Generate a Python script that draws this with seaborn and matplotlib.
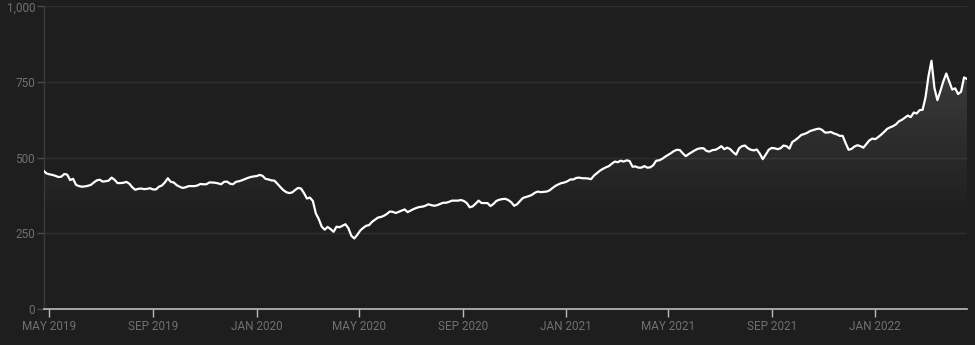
import numpy as np
import pandas as pd
import matplotlib
matplotlib.use("Agg")
import matplotlib.pyplot as plt
import matplotlib.dates as mdates
from matplotlib.ticker import FuncFormatter
import seaborn as sns

# ---- data (half-weekly closes) ----
start_date = "2019-04-24"
step = "84h"
prices = [
    457, 448, 445, 443, 440, 436, 437, 446, 444, 426,
    430, 410, 406, 404, 405, 407, 410, 418, 425, 427,
    421, 422, 424, 434, 427, 416, 416, 417, 420, 414,
    402, 394, 397, 398, 396, 397, 399, 395, 395, 404,
    408, 418, 432, 420, 418, 409, 404, 400, 402, 406,
    406, 406, 408, 413, 412, 412, 418, 418, 417, 415,
    412, 420, 421, 414, 412, 420, 422, 425, 429, 433,
    436, 438, 439, 443, 440, 430, 428, 425, 424, 414,
    403, 393, 386, 383, 385, 393, 400, 398, 383, 365,
    368, 357, 316, 297, 272, 262, 271, 264, 255, 272,
    270, 275, 280, 267, 242, 233, 245, 259, 268, 275,
    277, 288, 295, 302, 304, 308, 314, 322, 321, 317,
    321, 325, 329, 320, 325, 330, 334, 337, 338, 341,
    346, 343, 341, 343, 347, 351, 351, 354, 358, 358,
    358, 360, 357, 350, 336, 339, 348, 358, 350, 350,
    350, 340, 347, 357, 361, 363, 364, 360, 353, 341,
    346, 357, 367, 370, 373, 377, 384, 388, 386, 387,
    388, 392, 400, 407, 412, 416, 418, 422, 428, 428,
    433, 434, 432, 432, 431, 429, 441, 449, 457, 463,
    468, 472, 480, 487, 485, 490, 487, 491, 489, 470,
    471, 467, 467, 472, 467, 468, 475, 490, 491, 496,
    503, 509, 515, 522, 526, 525, 514, 505, 512, 518,
    524, 529, 531, 531, 522, 520, 525, 526, 531, 538,
    528, 533, 528, 518, 510, 531, 538, 540, 531, 526,
    524, 527, 513, 495, 510, 526, 532, 531, 528, 531,
    540, 538, 530, 552, 558, 566, 575, 578, 582, 588,
    591, 594, 596, 592, 583, 583, 585, 580, 577, 572,
    572, 548, 526, 529, 537, 541, 538, 533, 545, 557,
    563, 561, 568, 576, 585, 595, 600, 604, 610, 620,
    625, 632, 639, 634, 649, 646, 657, 658, 700, 770,
    820, 730, 690, 720, 752, 778, 752, 725, 729, 710,
    718, 765, 760,
]
y_ticks = [0, 250, 500, 750, 1000]

dates = pd.date_range(start_date, periods=len(prices), freq=step)
df = pd.DataFrame({"date": dates, "price": prices})

BG = "#1e1e1e"
GRID = "#2f2f2f"
LABEL = "#707070"

sns.set_style("dark", {"axes.facecolor": BG, "figure.facecolor": BG})
plt.rcParams["font.family"] = ["Roboto", "DejaVu Sans"]

fig = plt.figure(figsize=(9.75, 3.45), dpi=100, facecolor=BG)
ax = fig.add_axes([43.5 / 975, 36 / 345, (967 - 43.5) / 975, (309 - 6.3) / 345])
ax.set_facecolor(BG)

sns.lineplot(data=df, x="date", y="price", ax=ax, color="white",
             linewidth=1.6, zorder=3)

# gradient fill under the line
poly = ax.fill_between(df["date"], df["price"], 0, color="none", linewidth=0)
yy = np.linspace(0, 1000, 400)
alpha = np.clip((yy - 300) / (830 - 300), 0, 1) * 0.14
grad = np.zeros((len(yy), 2, 4))
grad[..., :3] = 1.0
grad[..., 3] = alpha[:, None]
x0 = mdates.date2num(dates[0])
x1 = mdates.date2num(dates[-1])
img = ax.imshow(grad, extent=[x0, x1, 0, 1000], aspect="auto",
                origin="lower", zorder=2, interpolation="bilinear")
img.set_clip_path(poly.get_paths()[0], transform=ax.transData)

ax.set_xlim(dates[0], dates[-1])
ax.set_ylim(0, 1000)
ax.set_yticks(y_ticks)
ax.yaxis.set_major_formatter(FuncFormatter(lambda v, p: f"{int(v):,}"))
ax.xaxis.set_major_locator(mdates.MonthLocator(bymonth=[1, 5, 9]))
ax.xaxis.set_major_formatter(
    FuncFormatter(lambda v, p: mdates.num2date(v).strftime("%b %Y").upper()))

ax.grid(axis="y", color=GRID, linewidth=1)
ax.grid(axis="x", visible=False)
ax.set_axisbelow(True)
for s in ["top", "right"]:
    ax.spines[s].set_visible(False)
ax.spines["left"].set_color("#3a3a3a")
ax.spines["left"].set_linewidth(1)
ax.spines["bottom"].set_color("#bdbdbd")
ax.spines["bottom"].set_linewidth(1.2)
ax.spines["bottom"].set_zorder(4)

ax.tick_params(axis="x", colors="#bdbdbd", length=6, width=1, pad=2,
               labelcolor=LABEL, labelsize=8.5, bottom=True)
ax.tick_params(axis="y", colors="#4a4a4a", length=5, width=1, pad=1,
               labelcolor=LABEL, labelsize=8.5, left=True)
ax.set_xlabel("")
ax.set_ylabel("")

fig.savefig("out.png", dpi=100, facecolor=BG)
